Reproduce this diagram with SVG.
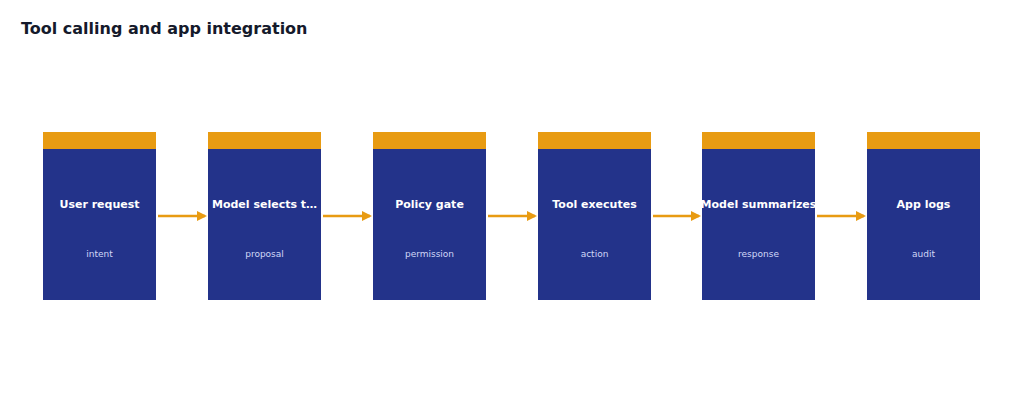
<svg xmlns="http://www.w3.org/2000/svg" width="1024" height="405" viewBox="0 0 1024 405">
<style>
.b{fill:#23338a}.h{fill:#e89b12}
.t{font-family:"DejaVu Sans",sans-serif;font-size:11px;font-weight:bold;fill:#fff;text-anchor:middle}
.s{font-family:"DejaVu Sans",sans-serif;font-size:9px;fill:#d0d7f7;text-anchor:middle}
.c{stroke:#e89b12;stroke-width:2.5;fill:none}
</style>
<defs><marker id="a" markerWidth="10" markerHeight="10" refX="8" refY="5" orient="auto" markerUnits="userSpaceOnUse"><path d="M0,0 L10,5 L0,10 z" fill="#e89b12"/></marker></defs>
<rect width="1024" height="405" fill="#fff"/>
<text x="21" y="34" font-family="DejaVu Sans,sans-serif" font-size="16" font-weight="bold" fill="#151a2b">Tool calling and app integration</text>
<g id="n1"><rect class="b" x="43" y="149" width="113" height="151"/><rect class="h" x="43" y="132" width="113" height="17"/><text class="t" x="99.5" y="208">User request</text><text class="s" x="99.5" y="257">intent</text></g>
<g id="n2"><rect class="b" x="208" y="149" width="113" height="151"/><rect class="h" x="208" y="132" width="113" height="17"/><text class="t" x="264.5" y="208">Model selects t…</text><text class="s" x="264.5" y="257">proposal</text></g>
<g id="n3"><rect class="b" x="373" y="149" width="113" height="151"/><rect class="h" x="373" y="132" width="113" height="17"/><text class="t" x="429.5" y="208">Policy gate</text><text class="s" x="429.5" y="257">permission</text></g>
<g id="n4"><rect class="b" x="538" y="149" width="113" height="151"/><rect class="h" x="538" y="132" width="113" height="17"/><text class="t" x="594.5" y="208">Tool executes</text><text class="s" x="594.5" y="257">action</text></g>
<g id="n5"><rect class="b" x="702" y="149" width="113" height="151"/><rect class="h" x="702" y="132" width="113" height="17"/><text class="t" x="758.5" y="208">Model summarizes</text><text class="s" x="758.5" y="257">response</text></g>
<g id="n6"><rect class="b" x="867" y="149" width="113" height="151"/><rect class="h" x="867" y="132" width="113" height="17"/><text class="t" x="923.5" y="208">App logs</text><text class="s" x="923.5" y="257">audit</text></g>
<g id="connectors">
<line class="c" x1="158" y1="216" x2="205" y2="216" marker-end="url(#a)"/>
<line class="c" x1="323" y1="216" x2="370" y2="216" marker-end="url(#a)"/>
<line class="c" x1="488" y1="216" x2="535" y2="216" marker-end="url(#a)"/>
<line class="c" x1="653" y1="216" x2="699" y2="216" marker-end="url(#a)"/>
<line class="c" x1="817" y1="216" x2="864" y2="216" marker-end="url(#a)"/>
</g>
</svg>
